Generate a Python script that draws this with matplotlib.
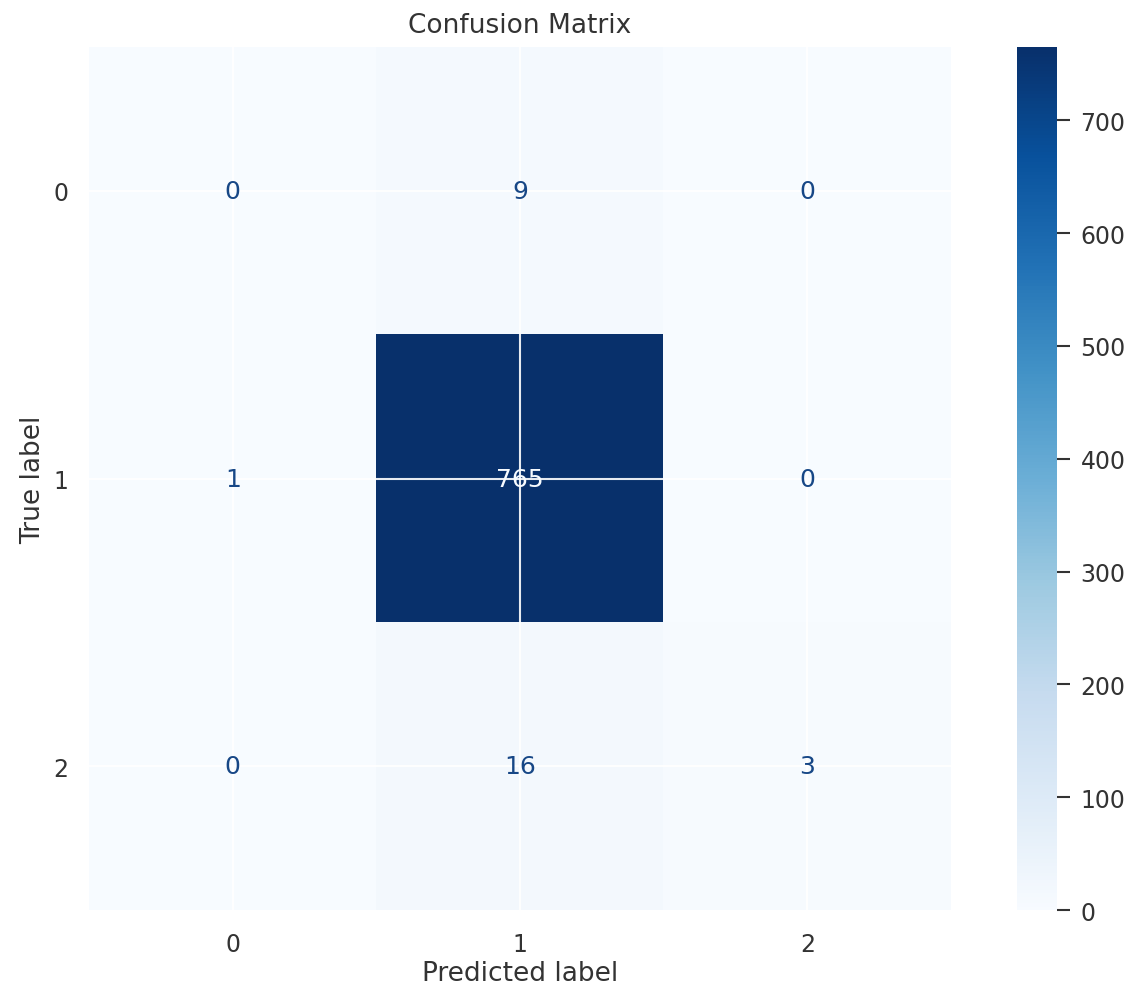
import numpy as np
import matplotlib
matplotlib.use("Agg")
import matplotlib.pyplot as plt

# confusion matrix values (rows = true, cols = predicted)
class_labels = ["0", "1", "2"]
row_0 = [0, 9, 0]
row_1 = [1, 765, 0]
row_2 = [0, 16, 3]
cm = np.array([row_0, row_1, row_2])

text_color = "#333333"
plt.rcParams["font.family"] = ["DejaVu Sans"]

fig = plt.figure(figsize=(11.33, 9.95), dpi=100)
ax = fig.add_axes([0.0786, 0.0844, 0.7608, 0.8673])
cax = fig.add_axes([0.8976, 0.0844, 0.0353, 0.8673])

cmap = plt.get_cmap("Blues")
im = ax.imshow(cm, cmap=cmap, vmin=0, vmax=cm.max(), interpolation="nearest", aspect="auto")

# cell counts, light text on dark cells like sklearn does
thresh = (cm.max() + cm.min()) / 2.0
for i in range(cm.shape[0]):
    for j in range(cm.shape[1]):
        c = cmap(0.0) if cm[i, j] > thresh else "#174786"
        ax.text(j, i, str(cm[i, j]), ha="center", va="center", color=c, fontsize=18)

ax.set_xticks(range(len(class_labels)))
ax.set_yticks(range(len(class_labels)))
ax.set_xticklabels(class_labels)
ax.set_yticklabels(class_labels)
ax.set_xlim(-0.5, 2.5)
ax.set_ylim(2.5, -0.5)
ax.tick_params(axis="x", length=0, pad=16, labelsize=17, labelcolor=text_color)
ax.tick_params(axis="y", length=0, pad=15, labelsize=17, labelcolor=text_color)
ax.grid(True, color="white", linewidth=1.5, alpha=0.9)
ax.set_axisbelow(False)
for s in ax.spines.values():
    s.set_visible(False)

ax.set_xlabel("Predicted label", fontsize=19, color=text_color, labelpad=3)
ax.set_ylabel("True label", fontsize=19, color=text_color, labelpad=5)
ax.set_title("Confusion Matrix", fontsize=19, color=text_color, pad=11)

cb = fig.colorbar(im, cax=cax)
cb.outline.set_visible(False)
cb.set_ticks([0, 100, 200, 300, 400, 500, 600, 700])
cax.tick_params(axis="y", length=9, width=1.5, color=text_color, pad=8,
                labelsize=17, labelcolor=text_color)

plt.savefig("out.png", dpi=100)
